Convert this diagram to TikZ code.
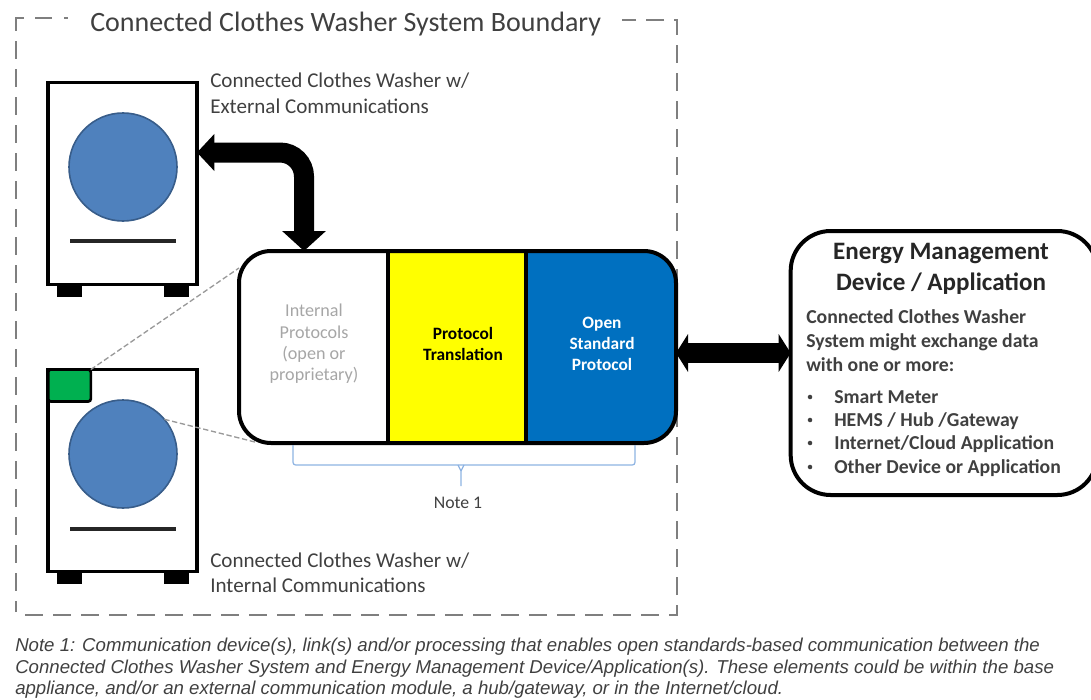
\documentclass[tikz,border=0pt]{standalone}
\usepackage{fontspec}
\setmainfont{Carlito}
\newfontfamily\notefont{Liberation Sans}
\usetikzlibrary{arrows.meta,calc}
\definecolor{txt}{HTML}{404040}
\definecolor{drumblue}{HTML}{4F81BD}
\definecolor{drumedge}{HTML}{385D8A}
\definecolor{stdblue}{HTML}{0070C0}
\definecolor{washgreen}{HTML}{00B050}
\definecolor{bracecol}{HTML}{8DB3E2}
\definecolor{dashgray}{HTML}{7F7F7F}
\definecolor{protoyellow}{HTML}{FFFF00}
\tikzset{
  x=0.75pt,y=-0.75pt,
  cabinet/.style={draw=black,line width=2.4pt,fill=white,inner sep=0,outer sep=0,minimum width=111.75pt,minimum height=152pt},
  drum/.style={circle,draw=drumedge,line width=1.2pt,fill=drumblue,inner sep=0,outer sep=0,minimum size=81pt},
  foot/.style={fill=black,inner sep=0,outer sep=0,minimum width=18.75pt,minimum height=9.5pt},
  dial/.style={draw=black!85,line width=2.4pt},
  label/.style={anchor=north west,align=left,inner sep=0,text=txt,font=\fontsize{15.8pt}{19pt}\selectfont},
  sect/.style={align=center,inner sep=0,font=\bfseries\fontsize{13pt}{16pt}\selectfont},
  bigarrow/.style={draw=black,line width=15pt,{Triangle[width=27pt,length=13pt,inset=0pt]}-{Triangle[width=32pt,length=15pt,inset=0pt]}},
  hbar/.style={draw=black,line width=15pt,{Triangle[width=28pt,length=9pt,inset=0pt]}-{Triangle[width=28pt,length=9pt,inset=0pt]}},
  boundary/.style={draw=dashgray,line width=2.2pt,dash pattern=on 13.5pt off 7.5pt},
  zoomline/.style={draw=black!40,line width=1pt,dash pattern=on 4pt off 2pt},
  bracket/.style={draw=bracecol,line width=0.9pt,rounded corners=2pt},
}
\begin{document}
\begin{tikzpicture}
\useasboundingbox (0,0) rectangle (1091,699);
% system boundary
\draw[boundary,dash phase=5pt] (16,612) -- (16,22);
\draw[boundary] (16,22) -- (16,18) -- (24,18);
\draw[boundary] (35,18) -- (52,18);
\draw[boundary] (64,18) -- (68,18);
\draw[boundary] (25,615) -- (677,615) -- (677,20) -- (622,20);
\node[anchor=base west,inner sep=0,text=txt,font=\fontsize{21pt}{24pt}\selectfont] (title) at (90,32) {Connected Clothes Washer System Boundary};

% washer with external communications
\node[cabinet] (w1) at (122.5,183.5) {};
\node[drum] (d1) at (123,167) {};
\draw[dial] (70,241) -- (176,241);
\node[foot] (f1a) at (69.5,291) {};
\node[foot] (f1b) at (176.5,291) {};
\node[label] (l1) at (210,73) {Connected Clothes Washer w/\\External Communications};

% washer with internal communications
\node[cabinet] (w2) at (122.5,470.5) {};
\node[drum] (d2) at (123,454) {};
\draw[dial] (70,529) -- (176,529);
\node[foot] (f2a) at (69.5,578) {};
\node[foot] (f2b) at (176.5,578) {};
\node[draw=black,line width=2pt,fill=washgreen,rounded corners=2pt,inner sep=0,outer sep=0,minimum width=32pt,minimum height=24pt] (comm) at (69.5,385.5) {};
\node[label] (l2) at (210,552.5) {Connected Clothes Washer w/\\Internal Communications};

% protocol box
\node[fill=protoyellow,inner sep=0,outer sep=0,minimum width=103.5pt,minimum height=144pt] (yel) at (457,347) {};
\fill[stdblue] (526,251) [rounded corners=22pt] -- (676,251) -- (676,443) [sharp corners] -- (526,443) -- cycle;
\node[draw=black,line width=3pt,rounded corners=24pt,inner sep=0,outer sep=0,minimum width=327.75pt,minimum height=144pt] (main) at (457.5,347) {};
\draw[line width=3pt] (yel.north west) -- (yel.south west);
\draw[line width=3pt] (yel.north east) -- (yel.south east);
\node[sect,text=black!35,font=\fontsize{13.6pt}{16pt}\selectfont] (s1) at (314,344) {Internal\\Protocols\\(open or\\proprietary)};
\node[sect,text=black] (s2) at (463,344) {Protocol\\Translation};
\node[sect,text=white] (s3) at (602,344) {Open\\Standard\\Protocol};

% zoom lines
\draw[zoomline] (comm.north east) -- (main.north west |- 0,268);
\draw[zoomline] (d2.40) -- ($(main.south west)+(16,-1)$);

% bracket
\coordinate (brtip) at (461,486);
\draw[bracket] (293,445) -- (293,465) -- (635,465) -- (635,445);
\draw[bracket,sharp corners] (brtip) -- (461,471) -- (458,465);
\draw[bracket,sharp corners] (461,471) -- (464,465);
\node[inner sep=0,text=txt,font=\fontsize{13.3pt}{15pt}\selectfont] (n1) at (458,503) {Note 1};

% energy management box
\node[draw=black,line width=3pt,fill=white,rounded corners=30pt,inner sep=0,outer sep=0,minimum width=230pt,minimum height=198pt] (ems) at (944,363) {};
\node[inner sep=0,align=center,text=black!85,font=\bfseries\fontsize{18.8pt}{23.25pt}\selectfont] (emst) at (941,269) {Energy Management\\Device / Application};
\node[anchor=north west,inner sep=0,align=left,text=txt,font=\bfseries\fontsize{14.8pt}{18pt}\selectfont] (emsd) at (806,309.5) {Connected Clothes Washer\\System might exchange data\\with one or more:};
\node[anchor=north west,inner sep=0,align=left,text=txt,font=\bfseries\fontsize{14.8pt}{17.5pt}\selectfont] (emsl) at (834,390) {Smart Meter\\HEMS / Hub /Gateway\\Internet/Cloud Application\\Other Device or Application};
\foreach \yy in {397,420,443,467}
  \fill[txt] (810,\yy) circle (1.7pt);

% connectors
\draw[bigarrow,rounded corners=18pt] ($(w1.east)+(0,-31)$) -| ($(main.north west)+(65,0)$);
\draw[hbar] ($(main.east)+(0,6)$) -- ($(ems.west)+(0,-10)$);

% caption
\node[anchor=north west,inner sep=0,align=left,text=txt,font=\notefont\itshape\fontsize{13.97pt}{16pt}\selectfont] (note) at (15,638) {Note 1: Communication device(s), link(s) and/or processing that enables open standards-based communication between the\\Connected Clothes Washer System and Energy Management Device/Application(s). These elements could be within the base\\appliance, and/or an external communication module, a hub/gateway, or in the Internet/cloud.};
\end{tikzpicture}
\end{document}
